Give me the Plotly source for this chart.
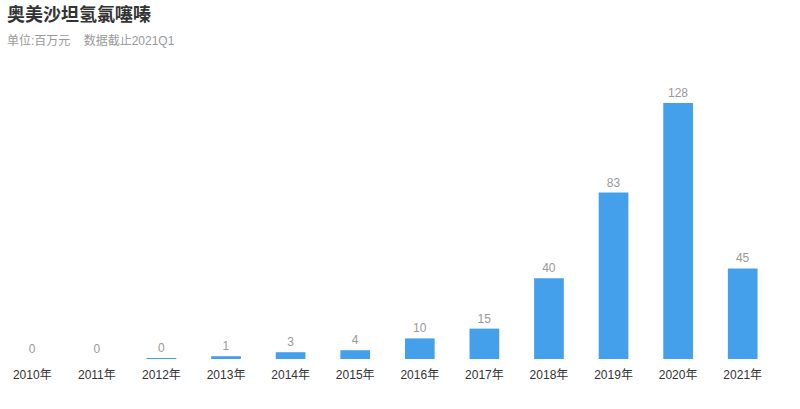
import plotly.graph_objects as go

years = ["2010年", "2011年", "2012年", "2013年", "2014年", "2015年",
         "2016年", "2017年", "2018年", "2019年", "2020年", "2021年"]
values = [0, 0, 0.1, 1.4, 3.4, 4.4, 10.3, 15.2, 40.4, 83.2, 128, 45.3]
labels = ["0", "0", "0", "1", "3", "4", "10", "15", "40", "83", "128", "45"]

FONT = "Liberation Sans, Noto Sans CJK SC, sans-serif"

fig = go.Figure(go.Bar(
    x=years, y=values, text=labels, textposition="outside",
    texttemplate="%{text}", cliponaxis=False,
    marker=dict(color="#45a0eb", line=dict(width=0)),
    textfont=dict(color="#999999", size=12, family=FONT),
    hoverinfo="x+y",
))

W, H = 800, 409
ML, MR, MT, MB = 0, 25, 80, 50

fig.update_layout(
    width=W, height=H,
    margin=dict(l=ML, r=MR, t=MT, b=MB, autoexpand=False),
    paper_bgcolor="white", plot_bgcolor="white",
    bargap=0.54,
    showlegend=False,
    font=dict(family=FONT, color="#333333", size=12),
    xaxis=dict(showgrid=False, showline=False, zeroline=False, ticks="",
               automargin=False, ticklabelstandoff=7,
               tickfont=dict(color="#333333", size=12, family=FONT)),
    yaxis=dict(visible=False, range=[0, 139.5], automargin=False),
)

plot_w = W - ML - MR
plot_h = H - MT - MB


def px_to_paper(px, py):
    return (px - ML) / plot_w, (H - MB - py) / plot_h


tx, ty = px_to_paper(5, 15)
sx, sy = px_to_paper(5, 41)
fig.add_annotation(text="<b>奥美沙坦氢氯噻嗪</b>", x=tx, y=ty, xref="paper", yref="paper",
                   showarrow=False, xanchor="left", yanchor="middle",
                   font=dict(size=18, color="#333333", family=FONT))
fig.add_annotation(text="单位:百万元    数据截止2021Q1", x=sx, y=sy, xref="paper", yref="paper",
                   showarrow=False, xanchor="left", yanchor="middle",
                   font=dict(size=12, color="#999999", family=FONT))

fig.write_html("out.html", config={"displayModeBar": False},
               post_script="document.body.style.margin='0';")
